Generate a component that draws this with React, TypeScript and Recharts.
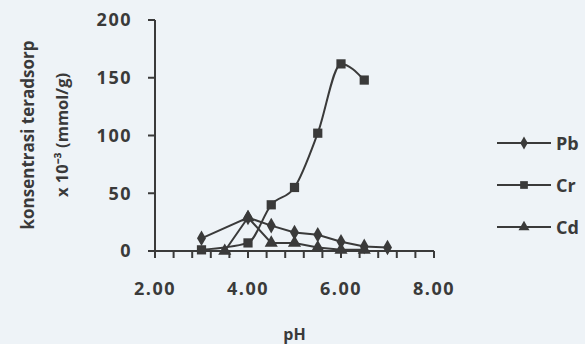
import React from 'react';
import { LineChart, Line, XAxis, YAxis, Symbols } from 'recharts';

// pH values measured, and adsorbed concentration (x 10^-3 mmol/g) per metal
const phValues = [3.0, 3.5, 4.0, 4.5, 5.0, 5.5, 6.0, 6.5, 7.0];
const pbValues = [11, null, 29, 22, 16, 14, 8, 4, 3];
const crValues = [1, null, 7, 40, 55, 102, 162, 148, null];
const cdValues = [null, 0, 29, 7, 7, 3, 1, 1, null];

const xTicks = [2, 2.4, 2.8, 3.2, 3.6, 4, 4.4, 4.8, 5.2, 5.6, 6, 6.4, 6.8, 7.2, 7.6, 8];
const xLabels = [2, 4, 6, 8];
const yTicks = [0, 50, 100, 150, 200];

const data = phValues.map((ph, i) => ({
  ph,
  Pb: pbValues[i],
  Cr: crValues[i],
  Cd: cdValues[i],
}));

const INK = '#3a3a3a';
const FONT = '"Open Sans", sans-serif';

const series = [
  { key: 'Pb', shape: 'diamond', size: 70, curve: 'linear' },
  { key: 'Cr', shape: 'square', size: 85, curve: 'monotone' },
  { key: 'Cd', shape: 'triangle', size: 75, curve: 'linear' },
];

const makeDot = (shape: any, size: number) => (props: any) => {
  const { cx, cy, key } = props;
  if (cx == null || cy == null) return <g key={key} />;
  return <Symbols key={key} cx={cx} cy={cy} type={shape} size={size} fill={INK} stroke="none" />;
};

// legend drawn as a plain overlay so it doesn't shrink the plot area
const LegendBox = () => (
  <div style={{ position: 'absolute', left: 497, top: 122, fontFamily: FONT, fontWeight: 700, fontSize: 18, color: INK }}>
    {series.map((s) => (
      <div key={s.key} style={{ display: 'flex', alignItems: 'center', height: 42 }}>
        <svg width={56} height={16}>
          <line x1={0} y1={8} x2={54} y2={8} stroke={INK} strokeWidth={2} />
          <Symbols cx={27} cy={8} type={s.shape as any} size={s.size * 0.7} fill={INK} />
        </svg>
        <span style={{ marginLeft: 3 }}>{s.key}</span>
      </div>
    ))}
  </div>
);

const YLabel = () => (
  <g fontFamily={FONT} fontWeight={700} fill={INK}>
    <text transform="translate(27,135) rotate(-90)" textAnchor="middle" dominantBaseline="central" fontSize={17}>
      konsentrasi teradsorp
    </text>
    <text transform="translate(61,135) rotate(-90)" textAnchor="middle" dominantBaseline="central" fontSize={16.5}>
      x 10⁻³ (mmol/g)
    </text>
  </g>
);

const tickStyle = { fill: INK, fontFamily: FONT, fontWeight: 700, fontSize: 18, letterSpacing: 1.5 };

export default function App() {
  return (
    <div style={{ position: 'absolute', left: 0, top: 0, width: 585, height: 344, background: '#eef3f7' }}>
      <LineChart width={585} height={344} data={data} margin={{ top: 20, right: 151, bottom: 53, left: 95 }}>
        <XAxis
          type="number"
          dataKey="ph"
          domain={[2, 8]}
          ticks={xTicks}
          interval={0}
          tickFormatter={(v: number) => (xLabels.some((l) => Math.abs(l - v) < 1e-6) ? v.toFixed(2) : '')}
          tick={tickStyle}
          tickSize={7}
          tickMargin={24}
          height={40}
          axisLine={{ stroke: INK, strokeWidth: 2 }}
          tickLine={{ stroke: INK, strokeWidth: 2 }}
          label={{ value: 'pH', position: 'insideBottom', offset: -49, fill: INK, fontFamily: FONT, fontWeight: 700, fontSize: 16 }}
        />
        <YAxis
          type="number"
          domain={[0, 200]}
          ticks={yTicks}
          interval={0}
          width={60}
          tick={tickStyle}
          tickSize={7}
          tickMargin={16}
          axisLine={{ stroke: INK, strokeWidth: 2 }}
          tickLine={{ stroke: INK, strokeWidth: 2 }}
          label={<YLabel />}
        />
        {series.map((s) => (
          <Line
            key={s.key}
            type={s.curve as any}
            dataKey={s.key}
            stroke={INK}
            strokeWidth={2}
            connectNulls
            dot={makeDot(s.shape, s.size)}
            activeDot={false}
            isAnimationActive={false}
          />
        ))}
      </LineChart>
      <LegendBox />
    </div>
  );
}
